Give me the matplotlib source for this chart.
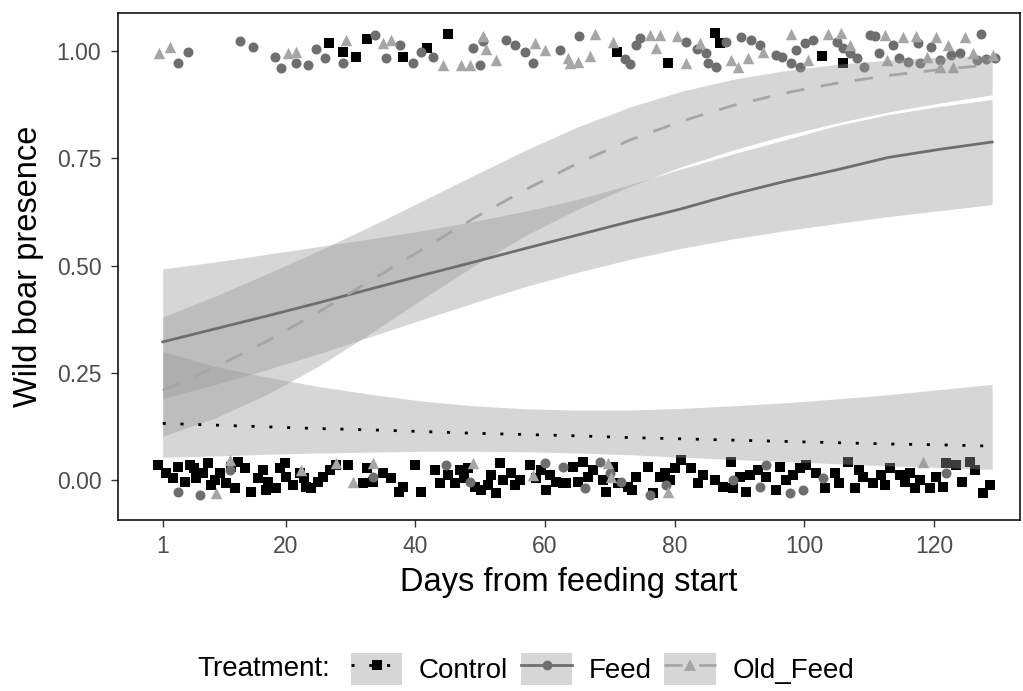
import matplotlib
matplotlib.use("Agg")

import matplotlib.pyplot as plt
from matplotlib.lines import Line2D
from matplotlib.patches import Patch

plt.rcParams["font.family"] = ["Liberation Sans", "DejaVu Sans"]
plt.rcParams["lines.scale_dashes"] = False

# ── Fitted probabilities (logistic smooth) with 95% band ───────────
days = [1, 9, 17, 25, 33, 41, 49, 57, 65, 73, 81, 89, 97, 105, 113, 121, 129]

control_fit = [0.132, 0.128, 0.124, 0.120, 0.117, 0.113, 0.109, 0.106, 0.103,
               0.099, 0.096, 0.093, 0.090, 0.087, 0.084, 0.082, 0.079]
control_lo = [0.053, 0.056, 0.060, 0.063, 0.065, 0.067, 0.067, 0.066, 0.063,
              0.059, 0.053, 0.048, 0.043, 0.038, 0.033, 0.029, 0.025]
control_hi = [0.300, 0.265, 0.240, 0.218, 0.200, 0.184, 0.173, 0.166, 0.163,
              0.163, 0.167, 0.173, 0.180, 0.189, 0.199, 0.211, 0.223]

feed_fit = [0.322, 0.352, 0.382, 0.413, 0.445, 0.477, 0.508, 0.540, 0.571,
            0.602, 0.632, 0.666, 0.696, 0.723, 0.752, 0.771, 0.788]
feed_lo = [0.190, 0.222, 0.257, 0.294, 0.334, 0.374, 0.413, 0.451, 0.484,
           0.514, 0.540, 0.562, 0.581, 0.598, 0.614, 0.628, 0.642]
feed_hi = [0.492, 0.508, 0.526, 0.544, 0.562, 0.581, 0.603, 0.627, 0.654,
           0.688, 0.725, 0.760, 0.793, 0.826, 0.852, 0.871, 0.887]

old_fit = [0.209, 0.262, 0.323, 0.391, 0.464, 0.537, 0.610, 0.677, 0.738,
           0.792, 0.836, 0.873, 0.902, 0.925, 0.943, 0.957, 0.968]
old_lo = [0.102, 0.144, 0.199, 0.265, 0.341, 0.421, 0.499, 0.570, 0.631,
          0.684, 0.730, 0.769, 0.803, 0.832, 0.858, 0.879, 0.898]
old_hi = [0.380, 0.428, 0.480, 0.534, 0.591, 0.650, 0.710, 0.769, 0.823,
          0.869, 0.906, 0.934, 0.954, 0.969, 0.979, 0.986, 0.990]

# ── Jittered observations (day, presence) ─────────────────────────
control_x = [0.27, 1.57, 3.36, 4.40, 5.17, 6.20, 7.22, 7.99, 9.02, 9.80, 10.83,
             12.11, 12.62, 13.65, 14.69, 15.71, 16.48, 17.25, 18.55, 19.06,
             20.09, 21.11, 22.14, 23.18, 23.95, 24.97, 25.74, 26.77, 27.81,
             29.60, 31.91, 33.45, 35.00, 36.29, 38.08, 39.89, 40.92, 42.98,
             43.75, 45.03, 46.06, 46.83, 48.12, 49.15, 50.18, 51.20, 51.73,
             53.01, 53.52, 54.81, 56.09, 57.63, 58.67, 60.21, 60.72, 61.76,
             63.30, 62.77, 64.32, 65.86, 66.63, 67.41, 68.95, 69.47, 71.26,
             72.81, 74.10, 75.89, 76.66, 77.70, 79.24, 80.01, 81.05, 82.59,
             84.38, 87.46, 88.76, 89.01, 90.04, 91.59, 92.87, 94.16, 95.71,
             96.22, 98.27, 100.34, 101.88, 103.16, 104.70, 106.76, 107.79,
             109.07, 110.61, 111.91, 113.19, 114.73, 116.28, 117.05, 117.82,
             119.36, 121.42, 121.94, 123.48, 125.54, 126.31, 127.59, 128.62,
             2.6, 5.9, 8.5, 11.6, 16.9, 19.8, 22.8, 32.6, 37.4, 47.5, 52.4,
             55.4, 59.4, 65.1, 70.5, 73.4, 78.5, 83.6, 86.3, 91.0, 97.2, 99.3,
             105.3, 108.4, 112.5, 115.5, 120.3, 124.4,
             26.7, 28.8, 30.9, 32.5, 38.1, 41.8, 45.0, 71.1, 79.0, 86.2, 87.0,
             102.7, 106.0]
control_y = [0.035, 0.016, 0.031, -0.004, 0.035, 0.004, 0.016, 0.039, 0.000,
             0.016, -0.008, -0.019, 0.043, 0.027, -0.027, 0.004, 0.023, -0.004,
             -0.019, 0.027, 0.008, -0.012, 0.016, -0.016, -0.019, -0.004, 0.008,
             0.023, 0.035, 0.035, -0.008, -0.004, 0.016, 0.004, -0.016, 0.035,
             -0.027, 0.023, -0.008, 0.012, -0.008, 0.023, 0.027, -0.016, -0.023,
             -0.012, 0.012, 0.039, 0.000, 0.016, 0.000, 0.035, 0.004, -0.023,
             0.012, -0.004, -0.008, -0.008, 0.031, 0.043, 0.008, 0.023, 0.000,
             -0.027, -0.008, -0.016, 0.008, 0.031, -0.031, 0.008, 0.000, 0.027,
             0.047, 0.027, 0.012, -0.016, 0.043, -0.019, 0.008, 0.012, 0.023,
             0.008, -0.023, 0.031, 0.012, 0.035, 0.016, -0.019, 0.016, 0.043,
             -0.019, 0.008, -0.008, 0.012, 0.027, 0.012, 0.016, -0.019, 0.000,
             -0.019, -0.016, 0.039, 0.035, 0.043, 0.023, -0.031, -0.012,
             0.004, 0.027, -0.012, 0.031, -0.023, 0.039, 0.004, 0.027, -0.027,
             0.004, -0.031, -0.012, 0.023, -0.004, 0.031, -0.023, 0.016, -0.008,
             0.000, -0.027, 0.000, 0.027, -0.008, 0.023, -0.012, -0.004, 0.008,
             -0.004,
             1.019, 0.998, 0.987, 1.027, 0.987, 1.008, 1.040, 0.998, 0.973,
             1.041, 1.018, 0.988, 0.973]

feed_x = [3.36, 6.71, 11.34, 33.45, 44.77, 48.38, 59.95, 62.77, 66.12, 68.44,
          69.98, 71.78, 76.15, 78.73, 89.01, 93.13, 94.16, 97.76, 99.81, 102.9,
          121.94,
          3.4, 4.9, 12.9, 14.9, 18.3, 19.3, 21.6, 23.4, 24.7, 26.0, 28.8, 33.7,
          35.5, 37.6, 39.6, 40.9, 42.7, 48.9, 49.9, 50.4, 54.0, 55.3, 56.9,
          58.1, 62.3, 65.3, 72.3, 73.1, 74.6, 74.1, 81.8, 83.4, 84.9, 85.2,
          86.4, 88.0, 90.3, 91.8, 93.1, 95.7, 96.5, 98.0, 99.3, 98.8, 100.1,
          101.4, 105.0, 106.0, 107.0, 108.1, 109.3, 110.1, 110.9, 111.6, 113.7,
          114.7, 117.6, 116.0, 117.8, 119.6, 120.9, 122.7, 124.0, 127.3, 126.6,
          128.1, 129.4]
feed_y = [-0.027, -0.035, 0.023, 0.008, 0.035, -0.004, 0.039, 0.031, -0.019,
          0.043, 0.016, -0.004, -0.035, -0.012, 0.000, -0.016, 0.035, -0.031,
          -0.023, 0.004, 0.016,
          0.973, 0.998, 1.024, 1.010, 0.985, 0.961, 0.973, 0.967, 1.004, 0.983,
          0.973, 1.037, 0.983, 1.014, 0.971, 0.998, 0.987, 1.008, 0.967, 1.024,
          1.026, 1.014, 0.998, 0.973, 1.002, 1.035, 0.981, 0.970, 1.030, 1.014,
          1.022, 1.004, 0.995, 0.971, 0.963, 1.022, 1.033, 1.026, 1.014, 0.991,
          0.987, 0.971, 0.963, 1.002, 1.018, 1.026, 1.022, 1.006, 0.995, 0.983,
          0.963, 1.037, 1.035, 0.995, 1.014, 0.983, 1.018, 0.975, 0.971, 1.010,
          0.979, 0.991, 0.995, 1.040, 0.979, 0.981, 0.983]

old_x = [9.29, 11.34, 22.4, 27.81, 30.37, 33.45, 48.89, 58.14, 69.72, 70.24,
         79.0, 118.33,
         0.5, 2.1, 20.3, 21.6, 29.3, 35.0, 36.3, 44.3, 47.1, 48.4, 50.4, 50.9,
         52.5, 58.4, 60.0, 63.6, 67.7, 63.8, 65.1, 66.9, 70.5, 76.2, 77.7, 77.2,
         80.3, 81.8, 83.9, 88.7, 89.8, 91.3, 93.6, 98.0, 100.6, 103.7, 105.7,
         107.0, 112.4, 112.7, 115.2, 117.3, 118.9, 120.4, 122.2, 124.8, 120.9,
         123.0, 126.0, 129.1]
old_y = [-0.031, 0.047, 0.023, 0.039, -0.004, 0.039, 0.039, 0.012, 0.039,
         0.008, -0.027, 0.043,
         0.995, 1.010, 0.995, 0.998, 1.026, 1.018, 1.026, 0.967, 0.967, 0.967,
         1.035, 1.004, 0.979, 1.018, 1.002, 0.983, 1.040, 0.971, 0.975, 0.988,
         1.022, 1.037, 1.037, 1.006, 1.035, 0.973, 1.018, 0.979, 0.963, 0.983,
         0.998, 1.040, 0.979, 1.040, 1.043, 1.014, 1.037, 0.979, 1.033, 1.035,
         0.987, 1.033, 1.014, 1.033, 0.963, 0.963, 0.995, 0.991]

x_ticks = [1, 20, 40, 60, 80, 100, 120]
y_ticks = [0.0, 0.25, 0.5, 0.75, 1.0]
y_ticklabels = ["0.00", "0.25", "0.50", "0.75", "1.00"]

# ── Styles ─────────────────────────────────────────────────────────
BAND = "#999999"
COL_CONTROL = "#000000"
COL_FEED = "#6e6e6e"
COL_OLD = "#a6a6a6"
DOTTED = (0, (2.2, 10.6))
DASHED = (0, (13, 12))

fig = plt.figure(figsize=(10.23, 6.91), dpi=100)
ax = fig.add_axes([118 / 1023, 1 - 520 / 691, 902 / 1023, 507 / 691])

ax.scatter(control_x, control_y, marker="s", s=55, color=COL_CONTROL, linewidths=0, zorder=1)
ax.scatter(feed_x, feed_y, marker="o", s=52, color=COL_FEED, linewidths=0, zorder=1)
ax.scatter(old_x, old_y, marker="^", s=68, color=COL_OLD, linewidths=0, zorder=1)

groups = [
    (control_fit, control_lo, control_hi, COL_CONTROL, DOTTED),
    (feed_fit, feed_lo, feed_hi, COL_FEED, "-"),
    (old_fit, old_lo, old_hi, COL_OLD, DASHED),
]
for fit, lo, hi, col, ls in groups:
    ax.fill_between(days, lo, hi, color=BAND, alpha=0.4, linewidth=0, zorder=2)
    ax.plot(days, fit, color=col, linestyle=ls, linewidth=2.0, zorder=3)

ax.set_xlim(-5.9, 133.3)
ax.set_ylim(-0.0932, 1.0886)
ax.set_xticks(x_ticks)
ax.set_yticks(y_ticks)
ax.set_yticklabels(y_ticklabels)
ax.tick_params(axis="both", length=5, width=1, color="#333333",
               labelsize=16.5, labelcolor="#4d4d4d")
ax.tick_params(axis="y", pad=7)
ax.tick_params(axis="x", pad=6)
for side in ax.spines.values():
    side.set_linewidth(1.1)
    side.set_color("black")

ax.set_xlabel("Days from feeding start", fontsize=23.5, labelpad=6)
ax.set_ylabel("Wild boar presence", fontsize=23.5, labelpad=9)

# ── Legend along the bottom ────────────────────────────────────────
fig.text(197 / 1023, 1 - 669 / 691, "Treatment:", fontsize=20,
         ha="left", va="center")

key_bg = "#d6d6d6"
handles = [
    (Patch(facecolor=key_bg, edgecolor="none"),
     Line2D([], [], color=COL_CONTROL, linestyle=DOTTED, linewidth=2.0,
            marker="s", markersize=7, markeredgewidth=0)),
    (Patch(facecolor=key_bg, edgecolor="none"),
     Line2D([], [], color=COL_FEED, linestyle="-", linewidth=2.0,
            marker="o", markersize=7, markeredgewidth=0)),
    (Patch(facecolor=key_bg, edgecolor="none"),
     Line2D([], [], color=COL_OLD, linestyle=DASHED, linewidth=2.0,
            marker="^", markersize=8, markeredgewidth=0)),
]
fig.legend(handles, ["Control", "Feed", "Old_Feed"], loc="center left",
           bbox_to_anchor=(351 / 1023, 1 - 669 / 691), ncol=3, frameon=False,
           fontsize=20, handlelength=1.85, handleheight=1.45,
           handletextpad=0.6, columnspacing=0.45, borderpad=0,
           borderaxespad=0, numpoints=1)

fig.savefig("out.png", dpi=100)
